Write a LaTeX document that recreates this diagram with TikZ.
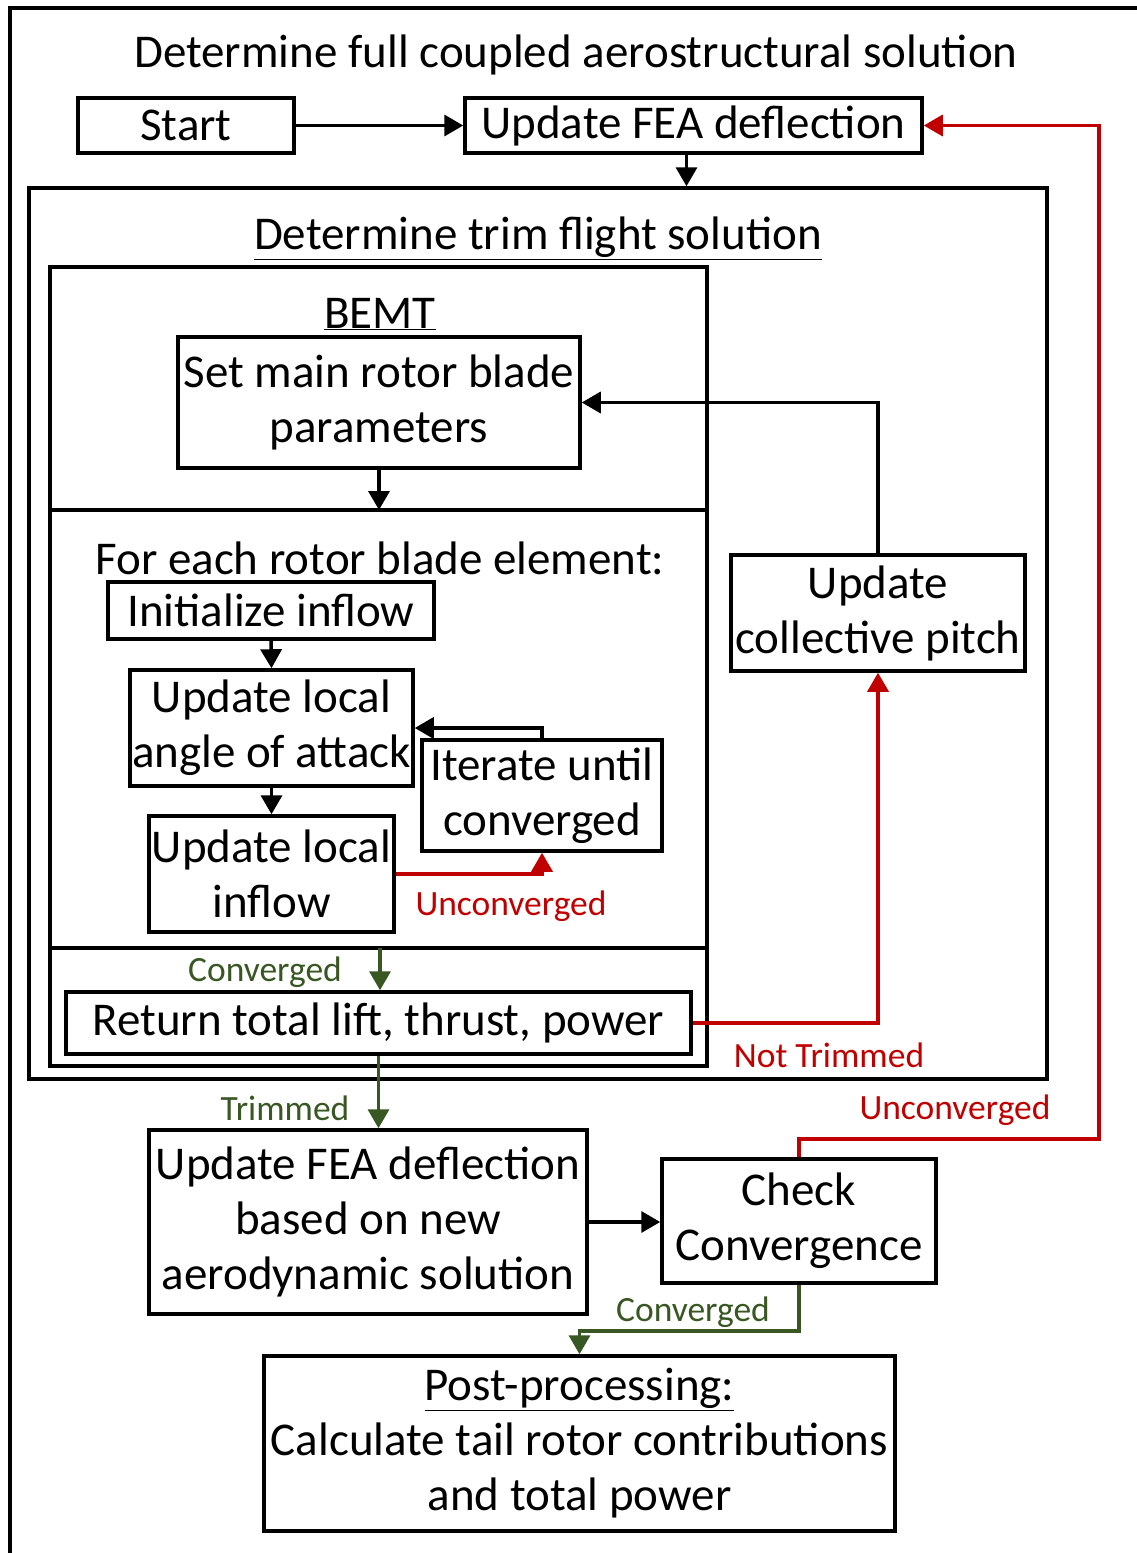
\documentclass[tikz,border=0pt]{standalone}
\usepackage{fontspec}
\setmainfont{Carlito}
\usetikzlibrary{arrows.meta,positioning,calc}
\definecolor{myred}{RGB}{192,0,0}
\definecolor{mygreen}{RGB}{56,87,35}
\tikzset{
  box/.style={draw=black, line width=3.5pt, inner sep=0pt, align=center,
    font=\fontsize{47}{55}\selectfont},
  container/.style={draw=black, line width=3.5pt, inner sep=0pt},
  plain/.style={inner sep=0pt, align=center, font=\fontsize{47}{55}\selectfont},
  lbl/.style={inner sep=0pt, font=\fontsize{35.5}{40}\selectfont},
  arr/.style={line width=3.5pt, -{Triangle[length=19pt,width=21pt]}},
  redarr/.style={arr, draw=myred, color=myred},
  grnarr/.style={arr, draw=mygreen, color=mygreen},
}
\begin{document}
\begin{tikzpicture}[x=1pt,y=-1pt]
\useasboundingbox (0,0) rectangle (1137,1553);
% outer frame (partly visible)
\draw[line width=3.5pt] (10,1570) -- (10,8) -- (1150,8);
\node[plain] (title) at (576,55) {Determine full coupled aerostructural solution};

\node[box, minimum width=216pt, minimum height=55pt] (start) at (186,125.5) {Start};
\node[box, minimum width=457pt, minimum height=55pt] (fea1) at (693.5,125.5) {Update FEA deflection};

% containers
\node[container, minimum width=1018pt, minimum height=891pt] (trim) at (538,633.5) {};
\node[plain] (trimtitle) at (538,238) {\underline{Determine trim flight solution}};
\node[container, minimum width=657pt, minimum height=799pt] (bemt) at (378.5,666.5) {};
\coordinate (d1w) at (50,510); \coordinate (d1e) at (707,510);
\coordinate (d2w) at (50,948); \coordinate (d2e) at (707,948);
\draw[line width=3.5pt] (d1w) -- (d1e);
\draw[line width=3.5pt] (d2w) -- (d2e);
\node[plain] (bemttitle) at (380,314) {\underline{BEMT}};

\node[box, minimum width=402pt, minimum height=131pt] (setp) at (379,402.5) {Set main rotor blade\\parameters};
\node[plain] (foreach) at (380,558) {For each rotor blade element:};
\node[box, minimum width=326pt, minimum height=57pt] (init) at (271,610.5) {Initialize inflow};
\node[box, minimum width=283pt, minimum height=116pt] (angle) at (271.5,728) {Update local\\angle of attack};
\node[box, minimum width=245pt, minimum height=116pt] (inflow) at (271.5,874) {Update local\\inflow};
\node[box, minimum width=240pt, minimum height=111pt] (iter) at (542,795.5) {Iterate until\\converged};
\node[box, minimum width=625pt, minimum height=62pt] (ret) at (378.5,1023) {Return total lift, thrust, power};
\node[box, minimum width=294pt, minimum height=116pt] (pitch) at (878,613) {Update\\collective pitch};
\node[box, minimum width=438pt, minimum height=184pt] (fea2) at (368,1222) {Update FEA deflection\\based on new\\aerodynamic solution};
\node[box, minimum width=274pt, minimum height=124pt] (check) at (799,1221) {Check\\Convergence};
\node[box, minimum width=631pt, minimum height=175pt] (post) at (579.5,1443.5) {\underline{Post-processing:}\\Calculate tail rotor contributions\\and total power};

% labels
\node[lbl, text=myred] (lunc1) at (511,906) {Unconverged};
\node[lbl, text=mygreen] (lconv1) at (265,972) {Converged};
\node[lbl, text=myred] (lnt) at (829,1055) {Not Trimmed};
\node[lbl, text=mygreen] (ltrim) at (285,1108) {Trimmed};
\node[lbl, text=myred] (lunc2) at (955,1110) {Unconverged};
\node[lbl, text=mygreen] (lconv2) at (693,1312) {Converged};

% connectors
\draw[arr] (start.east) -- (fea1.west);
\draw[arr] ([xshift=-7pt]fea1.south) -- ([xshift=-7pt]fea1.south |- trim.north);
\coordinate (d1a) at (379,510);
\draw[arr] (setp.south) -- (d1a);
\draw[arr] (init.south) -- (angle.north);
\draw[arr] (angle.south) -- (angle.south |- inflow.north);
\draw[arr] (iter.north) |- (angle.east);
\draw[redarr] (inflow.east) -| (iter.south);
\coordinate (d2a) at (380,948);
\draw[grnarr] (d2a) -- (d2a |- ret.north);
\draw[redarr] (ret.east) -| (pitch.south);
\draw[arr] (pitch.north) |- (setp.east);
\draw[grnarr] (ret.south) -- (ret.south |- fea2.north);
\draw[arr] (fea2.east) -- (fea2.east -| check.west);
\coordinate (rt) at (1099,1139);
\draw[redarr] (check.north) |- (rt) |- (fea1.east);
\coordinate (gc) at (799,1331);
\draw[grnarr] (check.south) -- (gc) -| (post.north);
\end{tikzpicture}
\end{document}
